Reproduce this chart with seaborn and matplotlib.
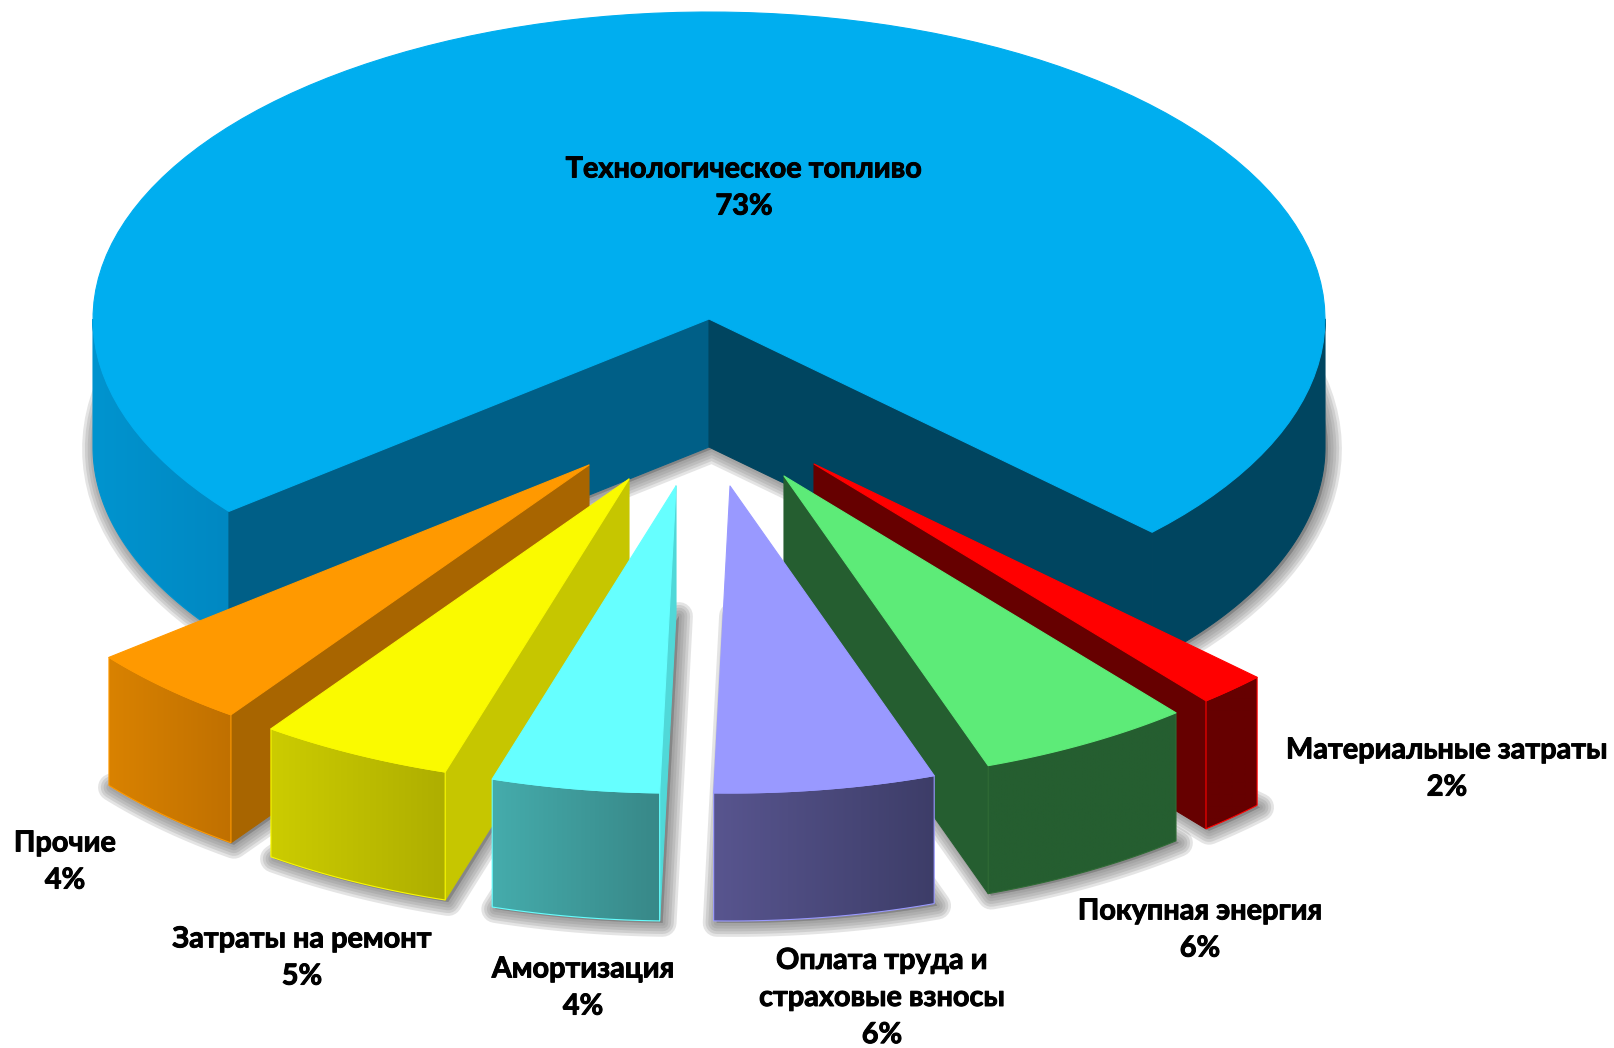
import numpy as np
import matplotlib
matplotlib.use("Agg")
import matplotlib.pyplot as plt
import matplotlib.patheffects as pe
from matplotlib.colors import LinearSegmentedColormap
from matplotlib.patches import Polygon
import seaborn as sns

# order goes counter-clockwise, starting from the big slice
names = ["Технологическое топливо", "Прочие", "Затраты на ремонт", "Амортизация",
         "Оплата труда и\nстраховые взносы", "Покупная энергия", "Материальные затраты"]
values = [73.0, 4.35, 5.05, 4.4, 5.8, 5.6, 1.8]
labels = ["73%", "4%", "5%", "4%", "6%", "6%", "2%"]

# how far each slice is pulled out of the pie, in pixels
explode_x = [0, -120, -80, -33, 21, 75, 105]
explode_y = [0, 146, 160, 167, 167, 157, 145]

top_colors = ["#00AEEF", "#FF9900", "#FAFA00", "#66FFFF", "#9999FF", "#5DEB78", "#FF0000"]
side_colors = ["#005F87", "#A86500", "#C6C600", "#50D8D8", "#5A5A9A", "#255E30", "#660000"]
front_left = ["#0094CF", "#D98200", "#CCCC00", "#45ACAC", "#58558F", "#255E30", "#660000"]
front_right = ["#0088C2", "#C07000", "#AEAE00", "#388888", "#3D3D68", "#255E30", "#660000"]
edge_colors = ["#0094CF", "#FF9900", "#FAFA00", "#66FFFF", "#9999FF", "#2F6B35", "#FF0000"]

label_x = [744, 65, 302, 583, 882, 1200, 1447]
label_y = [188, 862, 958, 988, 998, 930, 769]

CX, CY = 709, 319
RX, RY = 616, 307
DEPTH = 128
START = -44.0


def arc(a0, a1, ox, oy):
    t = np.radians(np.linspace(a0, a1, 120))
    return CX + ox + RX * np.cos(t), CY + oy - RY * np.sin(t)


def shape(xs, ys):
    return np.column_stack([xs, ys])


def top_face(a0, a1, ox, oy):
    x, y = arc(a0, a1, ox, oy)
    return shape(np.r_[CX + ox, x], np.r_[CY + oy, y])


def radial_face(a, ox, oy):
    x, y = arc(a, a, ox, oy)
    return shape([CX + ox, x[0], x[0], CX + ox],
                 [CY + oy, y[0], y[0] + DEPTH, CY + oy + DEPTH])


def outer_face(a0, a1, ox, oy):
    x, y = arc(a0, a1, ox, oy)
    return shape(np.r_[x, x[::-1]], np.r_[y, y[::-1] + DEPTH])


def draw_poly(ax, pts, color, z, edge=None):
    ax.add_patch(Polygon(pts, closed=True, fc=color, ec=edge or color,
                         lw=0.8, zorder=z, joinstyle="round"))


def draw_gradient(ax, pts, c0, c1, z, edge=None):
    # horizontal shading on the outer wall
    cmap = LinearSegmentedColormap.from_list("wall", [c0, c1])
    extent = [pts[:, 0].min(), pts[:, 0].max(), pts[:, 1].max(), pts[:, 1].min()]
    im = ax.imshow(np.linspace(0, 1, 256).reshape(1, -1), cmap=cmap, extent=extent,
                   aspect="auto", zorder=z, interpolation="bilinear")
    clip = Polygon(pts, closed=True, transform=ax.transData, fc="none", ec="none")
    ax.add_patch(clip)
    im.set_clip_path(clip)
    ax.add_patch(Polygon(pts, closed=True, fc="none", ec=edge or c0, lw=0.8, zorder=z + 0.1))


def draw_shadow(ax, pts, dx, dy):
    # soft shadow, built from widening strokes of the bottom face
    moved = pts + np.array([dx, dy + DEPTH])
    for w in [20, 16, 12, 8, 4]:
        ax.add_patch(Polygon(moved, closed=True, fc="#7A7A7A", ec="#7A7A7A", lw=w,
                             alpha=0.2, zorder=1, joinstyle="round"))


sns.set_theme(style="white")
plt.rcParams["font.family"] = ["Lato", "Open Sans", "DejaVu Sans"]
plt.rcParams["font.weight"] = "bold"

fig = plt.figure(figsize=(16.15, 10.48), dpi=100, facecolor="white")
ax = fig.add_axes([0, 0, 1, 1])

sweeps = np.array(values) / sum(values) * 360
starts = START + np.r_[0, np.cumsum(sweeps)[:-1]]
ends = starts + sweeps

for i in range(len(values)):
    draw_shadow(ax, top_face(starts[i], ends[i], explode_x[i], explode_y[i]), 3, 2)

# big slice: walls first, then the top
a0, a1 = starts[0], ends[0]
draw_poly(ax, outer_face(a0, 0, 0, 0), "#004560", 3)
draw_gradient(ax, outer_face(180, a1, 0, 0), front_left[0], front_right[0], 3)
draw_poly(ax, radial_face(a1, 0, 0), side_colors[0], 4)
draw_poly(ax, radial_face(a0, 0, 0), "#004560", 4)
draw_poly(ax, top_face(a0, a1, 0, 0), top_colors[0], 5)

# small slices, the ones nearer the viewer go later
z = 6
for i in [1, 2, 3, 6, 5, 4]:
    a0, a1, ox, oy = starts[i], ends[i], explode_x[i], explode_y[i]
    if a1 < 270:
        draw_poly(ax, radial_face(a1, ox, oy), side_colors[i], z)
    elif a0 > 270:
        draw_poly(ax, radial_face(a0, ox, oy), side_colors[i], z)
    draw_gradient(ax, outer_face(a0, a1, ox, oy), front_left[i], front_right[i], z + 0.2,
                  edge=edge_colors[i])
    draw_poly(ax, top_face(a0, a1, ox, oy), top_colors[i], z + 0.5)
    z += 1

for i in range(len(values)):
    txt = ax.text(label_x[i], label_y[i], names[i] + "\n" + labels[i], ha="center", va="center",
                  fontsize=20.8, fontweight="bold", color="black", linespacing=1.53, zorder=20)
    txt.set_path_effects([pe.withStroke(linewidth=0.7, foreground="black")])

ax.set_xlim(0, 1615)
ax.set_ylim(1048, 0)
ax.axis("off")

fig.savefig("out.png", dpi=100, facecolor="white")
